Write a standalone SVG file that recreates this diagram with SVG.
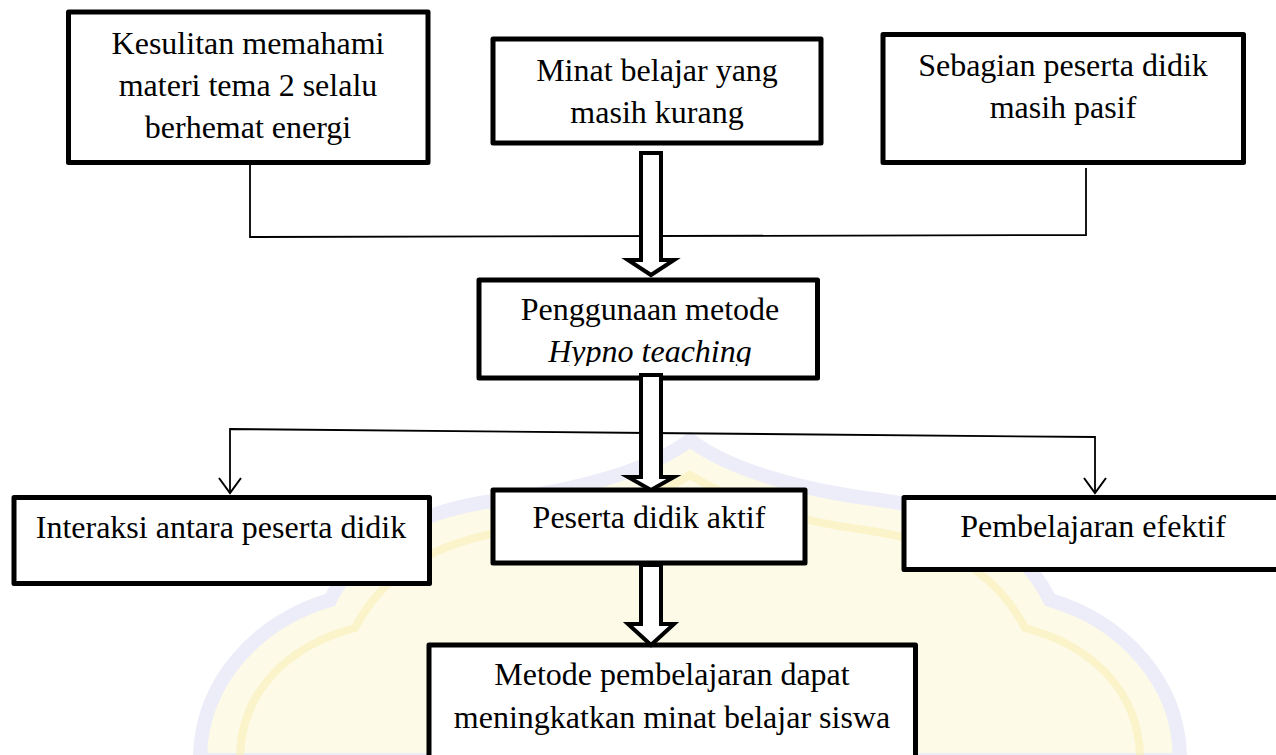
<svg xmlns="http://www.w3.org/2000/svg" width="1276" height="755" viewBox="0 0 1276 755">
<style>
.box{fill:#fff;stroke:#000;stroke-width:5;stroke-linejoin:round}
.t{font-family:"Liberation Serif","Times New Roman",serif;font-size:32px;fill:#000;text-anchor:middle}
.it{font-style:italic}
.thin{fill:none;stroke:#000;stroke-width:1.8}
.block{fill:#fff;stroke:#000;stroke-width:4;stroke-linejoin:miter}
.wm1{fill:#fdf9de;stroke:#e6e4f7;stroke-width:14;opacity:0.7}
.wm2{fill:none;stroke:#f9f1bd;stroke-width:8;opacity:0.7}
</style>
<defs>
<marker id="vhead" markerUnits="userSpaceOnUse" viewBox="-17 -13 19 26" markerWidth="19" markerHeight="26" refX="0" refY="0" orient="auto">
<path d="M-15,-11 L0,0 L-15,11" fill="none" stroke="#000" stroke-width="2"/>
</marker>
<clipPath id="clip4"><rect x="481" y="282" width="335" height="84"/></clipPath>
</defs>
<rect width="1276" height="755" fill="#fff"/>
<g id="watermark">
<path class="wm1" d="M200 760 C200 680 260 620 330 600 C360 540 420 510 500 500 C580 490 650 470 690 440 C730 470 800 490 880 500 C960 510 1020 540 1050 600 C1120 620 1180 680 1180 760 Z"/>
<path class="wm2" d="M240 760 C240 690 290 645 355 628 C385 570 440 540 515 530 C590 520 650 500 690 475 C730 500 790 520 865 530 C940 540 995 570 1025 628 C1090 645 1140 690 1140 760"/>
</g>
<g id="connectors">
<path class="thin" d="M250,165 L250,237 L1086,235 L1086,168"/>
<path class="thin" d="M650,433 L230,429 L230,493" marker-end="url(#vhead)"/>
<path class="thin" d="M650,433 L1095,437 L1095,493" marker-end="url(#vhead)"/>
</g>
<g id="n1">
<rect class="box" x="68.5" y="12" width="359.5" height="150.5"/>
<text class="t" x="248" y="54">Kesulitan memahami</text>
<text class="t" x="248" y="96">materi tema 2 selalu</text>
<text class="t" x="248" y="138">berhemat energi</text>
</g>
<g id="n2">
<rect class="box" x="493" y="39" width="328" height="104"/>
<text class="t" x="657" y="81">Minat belajar yang</text>
<text class="t" x="657" y="123">masih kurang</text>
</g>
<g id="n3">
<rect class="box" x="883" y="34.5" width="360.5" height="128"/>
<text class="t" x="1063" y="76">Sebagian peserta didik</text>
<text class="t" x="1063" y="118">masih pasif</text>
</g>
<g id="n4">
<rect class="box" x="479" y="280" width="338.5" height="98"/>
<g clip-path="url(#clip4)">
<text class="t" x="650" y="320">Penggunaan metode</text>
<text class="t it" x="650" y="362">Hypno teaching</text>
</g>
</g>
<g id="n5">
<rect class="box" x="14" y="497.5" width="415.5" height="86"/>
<text class="t" x="221" y="538">Interaksi antara peserta didik</text>
</g>
<g id="n6">
<rect class="box" x="493" y="490" width="312" height="73"/>
<text class="t" x="649" y="528">Peserta didik aktif</text>
</g>
<g id="n7">
<rect class="box" x="904" y="497.5" width="400" height="72"/>
<text class="t" x="1093" y="537">Pembelajaran efektif</text>
</g>
<g id="n8">
<rect class="box" x="429" y="645" width="486.5" height="150"/>
<text class="t" x="672" y="685">Metode pembelajaran dapat</text>
<text class="t" x="672" y="728">meningkatkan minat belajar siswa</text>
</g>
<g id="block-arrows">
<path class="block" d="M641,153 L661,153 L661,260 L674,260 L651,275 L628,260 L641,260 Z"/>
<path class="block" d="M641,375 L661,375 L661,477 L674,477 L651,490 L628,477 L641,477 Z"/>
<path class="block" d="M641,565 L661,565 L661,624 L674,624 L651,645 L628,624 L641,624 Z"/>
</g>
</svg>
